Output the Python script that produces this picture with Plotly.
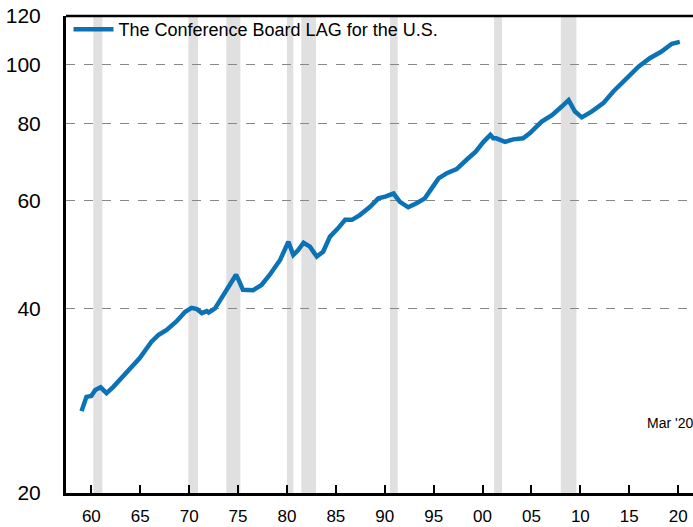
import plotly.graph_objects as go

# Series: The Conference Board Lagging Economic Index (LAG) for the U.S.
years = [1959.0, 1959.5, 1960.0, 1960.4, 1960.95, 1961.55, 1962.25, 1962.9, 1963.95, 1964.95,
         1966.15, 1966.85, 1967.7, 1968.7, 1969.6, 1970.25, 1970.8, 1971.3, 1971.8, 1972.0,
         1972.65, 1973.35, 1974.0, 1974.8, 1975.15, 1975.5, 1976.55, 1977.4, 1978.25, 1979.3,
         1980.15, 1980.65, 1981.15, 1981.7, 1982.35, 1983.05, 1983.7, 1984.4, 1985.2, 1985.95,
         1986.65, 1987.45, 1988.5, 1989.35, 1990.05, 1990.9, 1991.55, 1992.4, 1993.25, 1994.1,
         1994.8, 1995.5, 1996.35, 1997.35, 1998.4, 1999.3, 2000.1, 2000.8, 2001.1, 2001.4,
         2002.3, 2003.15, 2004.15, 2004.85, 2006.05, 2007.1, 2008.1, 2008.8, 2009.45, 2010.15,
         2011.15, 2012.35, 2013.35, 2014.75, 2015.95, 2017.1, 2018.3, 2019.35, 2020.17]
lag_values = [27.2, 28.7, 28.8, 29.45, 29.75, 29.1, 29.8, 30.6, 31.75, 33.2,
              35.3, 36.2, 36.9, 38.1, 39.5, 40.1, 39.9, 39.3, 39.6, 39.4,
              40.0, 41.6, 43.15, 45.4, 44.2, 42.9, 42.85, 43.7, 45.4, 48.0,
              51.4, 48.9, 49.8, 51.2, 50.45, 48.6, 49.5, 52.4, 54.0, 55.8,
              55.8, 56.8, 58.6, 60.5, 60.9, 61.6, 59.7, 58.5, 59.4, 60.5,
              62.8, 65.2, 66.5, 67.5, 70.0, 72.1, 74.8, 76.8, 75.8, 75.8,
              74.8, 75.5, 75.8, 77.3, 80.7, 82.7, 85.4, 87.5, 83.8, 82.0,
              83.8, 86.5, 90.3, 95.0, 99.2, 102.4, 105.0, 108.1, 108.9]

# Recession periods (start, end) in decimal years
recession_starts = [1960.2, 1969.92, 1973.8, 1980.0, 1981.47, 1990.54, 2001.18, 2008.0]
recession_ends = [1961.13, 1970.91, 1975.24, 1980.65, 1982.97, 1991.33, 2002.0, 2009.6]

x_tick_vals = [1960, 1965, 1970, 1975, 1980, 1985, 1990, 1995, 2000, 2005, 2010, 2015, 2020]
x_tick_text = ["60", "65", "70", "75", "80", "85", "90", "95", "00", "05", "10", "15", "20"]
y_tick_vals = [20, 40, 60, 80, 100, 120]
y_tick_text = ["20", "40", "60", "80", "100", "120"]

series_name = "The Conference Board LAG for the U.S."
note_text = "Mar '20"

FONT = "Liberation Sans, Arial, sans-serif"

fig = go.Figure()
fig.add_trace(go.Scatter(
    x=years, y=lag_values, mode="lines", name=series_name,
    line=dict(color="#0b72b5", width=4.5),
))

for s, e in zip(recession_starts, recession_ends):
    fig.add_shape(type="rect", xref="x", yref="paper", x0=s, x1=e, y0=0, y1=1,
                  fillcolor="#e0e0e0", line=dict(width=0), layer="below")

# top border
fig.add_shape(type="line", xref="paper", yref="paper", x0=0, x1=1, y0=1, y1=1,
              line=dict(color="black", width=2.5))

fig.add_annotation(text=note_text, xref="paper", yref="paper", x=0.9234, y=0.1468,
                   xanchor="left", yanchor="middle", showarrow=False,
                   font=dict(family=FONT, size=14, color="black"))

fig.update_layout(
    width=693, height=527,
    margin=dict(l=66, r=0, t=16, b=34),
    paper_bgcolor="white", plot_bgcolor="white",
    font=dict(family=FONT, color="black"),
    showlegend=True,
    legend=dict(x=0.004, y=1.0105, xanchor="left", yanchor="top", bgcolor="rgba(0,0,0,0)",
                font=dict(family=FONT, size=18, color="black"), borderwidth=0,
                itemwidth=40),
    xaxis=dict(range=[1957.41, 2021.52], tickvals=x_tick_vals, ticktext=x_tick_text,
               showgrid=False, zeroline=False, showline=True, linecolor="black", linewidth=3,
               ticks="inside", ticklen=8, tickwidth=1.5, tickcolor="black",
               tickfont=dict(family=FONT, size=17, color="black"), ticklabelstandoff=6),
    yaxis=dict(type="log", range=[1.30103, 2.07918], tickvals=y_tick_vals, ticktext=y_tick_text,
               showgrid=True, gridcolor="#888888", griddash="dash", gridwidth=1,
               zeroline=False, showline=True, linecolor="black", linewidth=3,
               ticks="", tickfont=dict(family=FONT, size=21, color="black"),
               ticklabelstandoff=18),
)

fig.write_html("out.html", config={"displayModeBar": False},
               post_script="document.body.style.margin='0';")
